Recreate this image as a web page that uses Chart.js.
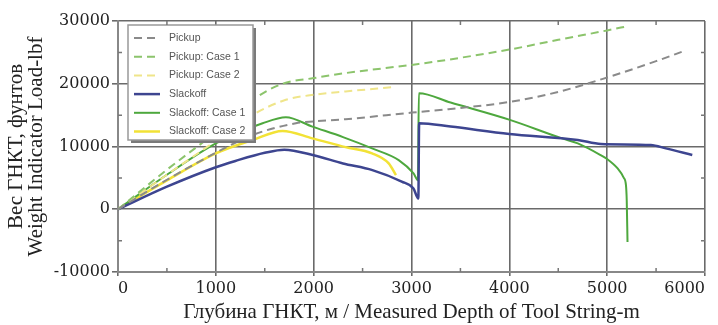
<!DOCTYPE html>
<html>
<head>
<meta charset="utf-8">
<script src="https://cdn.jsdelivr.net/npm/chart.js@4.4.1/dist/chart.umd.min.js"></script>
<style>
  html, body { margin: 0; padding: 0; background: #fff; }
  #wrap { width: 718px; height: 325px; position: relative; }
</style>
</head>
<body>
<div id="wrap"><canvas id="myChart"></canvas></div>
<script>
// depth (m) and weight indicator load (lbf)
const pickupDepth = [0, 500, 1000, 1377, 1818, 2000, 2326, 3000, 3377, 4000, 4500, 5000, 5500, 5800];
const pickupLoad  = [0, 4700, 9000, 11840, 13700, 14000, 14350, 15400, 15950, 17100, 18700, 21000, 23600, 25300];

const pickup1Depth = [0, 500, 1000, 1377, 1682, 2000, 2326, 3072, 3377, 4000, 4500, 5000, 5209];
const pickup1Load  = [0, 6300, 12300, 17440, 20000, 20900, 21700, 23150, 23840, 25450, 27000, 28500, 29170];

const pickup2Depth = [0, 500, 1000, 1377, 1716, 2000, 2326, 2818];
const pickup2Load  = [0, 5500, 10900, 15040, 17440, 18240, 18770, 19470];

const slackDepth = [0, 500, 1000, 1200, 1500, 1700, 2000, 2300, 2600, 2900, 3020, 3070, 3078, 3400, 4000, 4700, 4937, 5446, 5600, 5870];
const slackLoad  = [0, 3600, 6700, 7700, 9000, 9500, 8600, 7300, 6240, 4400, 3300, 1700, 13700, 13170, 12000, 11040, 10400, 10240, 9700, 8640];

const slack1Depth = [0, 500, 1000, 1478, 1716, 1987, 2300, 2597, 2869, 3021, 3066, 3075, 3400, 4005, 4537, 4700, 4937, 5000, 5107, 5170, 5192, 5200, 5208];
const slack1Load  = [0, 5500, 10500, 13700, 14670, 13170, 11500, 9700, 7840, 5700, 4640, 18500, 17000, 14240, 11300, 10500, 8600, 8000, 6500, 5000, 3840, 1440, -5230];

const slack2Depth = [0, 500, 1000, 1377, 1682, 1987, 2326, 2597, 2767, 2841];
const slack2Load  = [0, 4600, 8900, 11040, 12480, 11300, 9900, 8900, 7310, 5440];

const xTicks = [0, 1000, 2000, 3000, 4000, 5000, 6000];
const yTicks = [-10000, 0, 10000, 20000, 30000];

const seriesNames = ['Pickup', 'Pickup: Case 1', 'Pickup: Case 2', 'Slackoff', 'Slackoff: Case 1', 'Slackoff: Case 2'];

function pts(xs, ys) {
  return xs.map((x, i) => ({ x: x, y: ys[i] }));
}

const ctx = document.getElementById('myChart');

// small inward ticks between the major grid lines
const minorTicks = {
  id: 'minorTicks',
  afterDraw(chart) {
    const c = chart.ctx, a = chart.chartArea;
    const sx = chart.scales.x, sy = chart.scales.y;
    c.save();
    c.strokeStyle = '#777';
    c.lineWidth = 1.5;
    c.beginPath();
    for (let i = 0; i < xTicks.length - 1; i++) {
      const px = sx.getPixelForValue((xTicks[i] + xTicks[i + 1]) / 2);
      c.moveTo(px, a.bottom); c.lineTo(px, a.bottom - 4);
      c.moveTo(px, a.top); c.lineTo(px, a.top + 4);
    }
    for (let i = 0; i < yTicks.length - 1; i++) {
      const py = sy.getPixelForValue((yTicks[i] + yTicks[i + 1]) / 2);
      c.moveTo(a.left, py); c.lineTo(a.left + 4, py);
      c.moveTo(a.right, py); c.lineTo(a.right - 4, py);
    }
    c.stroke();
    c.restore();
  }
};

// legend box inside the plot, top left, with drop shadow
const boxLegend = {
  id: 'boxLegend',
  afterDatasetsDraw(chart) {
    const c = chart.ctx, a = chart.chartArea;
    const x0 = a.left + 10, y0 = a.top + 4, w = 125, h = 115;
    c.save();
    c.fillStyle = '#7a7a7a';
    c.fillRect(x0 + 3, y0 + 3, w, h);
    c.fillStyle = '#fff';
    c.fillRect(x0, y0, w, h);
    c.strokeStyle = '#999';
    c.lineWidth = 1.5;
    c.strokeRect(x0, y0, w, h);
    c.font = "10.5px 'Liberation Sans Narrow', 'Liberation Sans', sans-serif";
    c.textBaseline = 'middle';
    chart.data.datasets.forEach((ds, i) => {
      const ly = y0 + 13 + i * 18.7;
      c.strokeStyle = ds.borderColor;
      c.lineWidth = ds.borderWidth;
      c.setLineDash(ds.borderDash || []);
      c.beginPath();
      c.moveTo(x0 + 6, ly); c.lineTo(x0 + 32, ly);
      c.stroke();
      c.setLineDash([]);
      c.fillStyle = '#555';
      c.fillText(ds.label, x0 + 41, ly);
    });
    c.restore();
  }
};

const dash = [8, 5];
const tickFont = { family: "'DejaVu Serif', serif", size: 16 };

new Chart(ctx, {
  type: 'line',
  data: {
    datasets: [
      { label: seriesNames[0], data: pts(pickupDepth, pickupLoad), borderColor: '#8a8a8a', borderWidth: 2, borderDash: dash },
      { label: seriesNames[1], data: pts(pickup1Depth, pickup1Load), borderColor: '#8cc46c', borderWidth: 2, borderDash: dash },
      { label: seriesNames[2], data: pts(pickup2Depth, pickup2Load), borderColor: '#efe58a', borderWidth: 2, borderDash: dash },
      { label: seriesNames[3], data: pts(slackDepth, slackLoad), borderColor: '#3d4590', borderWidth: 2.5 },
      { label: seriesNames[4], data: pts(slack1Depth, slack1Load), borderColor: '#4ea83e', borderWidth: 2 },
      { label: seriesNames[5], data: pts(slack2Depth, slack2Load), borderColor: '#f2e236', borderWidth: 2.5 }
    ]
  },
  options: {
    responsive: true,
    maintainAspectRatio: false,
    animation: false,
    layout: { padding: { top: 21, right: 13, left: 0, bottom: 0 } },
    elements: {
      point: { radius: 0 },
      line: { cubicInterpolationMode: 'monotone', fill: false }
    },
    plugins: {
      legend: { display: false },
      tooltip: { enabled: false }
    },
    scales: {
      x: {
        type: 'linear',
        min: 0,
        max: 6000,
        afterFit(s) { s.height = 53; s.paddingLeft = 0; s.paddingRight = 0; },
        afterBuildTicks(s) { s.ticks = xTicks.map(v => ({ value: v })); },
        ticks: {
          align: 'inner',
          color: '#222',
          padding: 3,
          font: tickFont,
          callback: v => String(v)
        },
        grid: { color: '#6a6a6a', lineWidth: 1.6, tickLength: 4 },
        border: { color: '#888', width: 2 },
        title: {
          display: true,
          text: 'Глубина ГНКТ, м / Measured Depth of Tool String-m',
          color: '#222',
          padding: { top: 0, bottom: 0 },
          font: { family: "'Liberation Serif', serif", size: 21 }
        }
      },
      y: {
        min: -10000,
        max: 30000,
        afterFit(s) { s.width = 118; s.paddingTop = 0; s.paddingBottom = 0; },
        afterBuildTicks(s) { s.ticks = yTicks.map(v => ({ value: v })); },
        ticks: {
          color: '#222',
          padding: 2,
          font: tickFont,
          callback: v => String(v)
        },
        grid: { color: '#6a6a6a', lineWidth: 1.6, tickLength: 6 },
        border: { color: '#888', width: 2 },
        title: {
          display: true,
          text: ['Вес ГНКТ, фунтов', 'Weight Indicator Load-lbf'],
          color: '#222',
          padding: { top: 7, bottom: 0 },
          font: { family: "'Liberation Serif', serif", size: 21, lineHeight: 0.95 }
        }
      }
    }
  },
  plugins: [minorTicks, boxLegend]
});
</script>
</body>
</html>
